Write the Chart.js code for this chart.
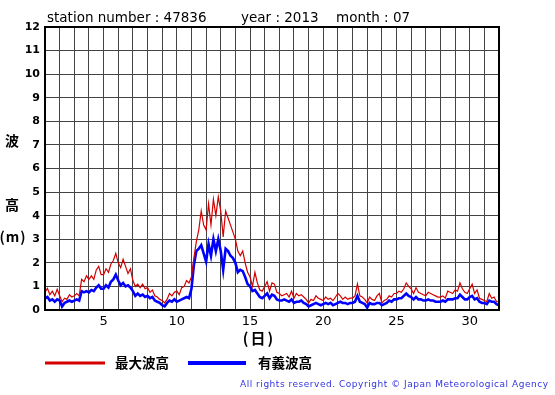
<!DOCTYPE html>
<html>
<head>
<meta charset="utf-8">
<script src="https://cdn.jsdelivr.net/npm/chart.js@4/dist/chart.umd.min.js"></script>
<style>
html,body{margin:0;padding:0;background:#fff;}
#wrap{position:relative;width:555px;height:395px;}
canvas{display:block;}
</style>
</head>
<body>
<div id="wrap"><canvas id="c" width="555" height="395"></canvas></div>
<script>
// ---- data (6 samples per day, starting day 1) ----
const startDay = 1;
const samplesPerDay = 6;
const maxWave = [
0.75,0.92,0.65,0.8,0.6,0.88,
0.6,0.35,0.5,0.45,0.65,0.55,
0.6,0.7,0.6,1.3,1.2,1.45,
1.3,1.45,1.3,1.7,1.85,1.5,
1.5,1.75,1.6,1.95,2.1,2.4,
2.0,1.8,2.15,1.85,1.55,1.75,
1.25,1.0,1.1,0.95,1.1,0.9,
0.95,0.75,0.85,0.6,0.55,0.45,
0.4,0.3,0.45,0.7,0.6,0.75,
0.8,0.65,0.95,1.0,1.25,1.15,
1.4,2.2,2.9,3.4,4.2,3.6,
3.4,4.5,3.6,4.7,4.0,4.8,
4.2,3.1,4.2,3.9,3.6,3.3,
3.0,2.5,2.3,2.5,2.0,1.6,
1.4,1.0,1.6,1.15,0.85,0.8,
1.0,1.2,0.8,1.15,1.1,0.75,
0.7,0.6,0.65,0.7,0.55,0.8,
0.5,0.7,0.6,0.65,0.55,0.45,
0.3,0.45,0.4,0.6,0.5,0.45,
0.4,0.55,0.45,0.5,0.4,0.55,
0.7,0.6,0.45,0.55,0.45,0.5,
0.5,0.6,1.1,0.6,0.55,0.45,
0.3,0.55,0.45,0.4,0.6,0.7,
0.3,0.4,0.45,0.6,0.55,0.7,
0.7,0.8,0.75,0.9,1.15,1.0,
0.9,0.7,0.95,0.75,0.7,0.65,
0.6,0.75,0.7,0.65,0.6,0.55,
0.55,0.6,0.5,0.8,0.75,0.7,
0.85,0.8,1.15,0.9,0.75,0.7,
0.9,1.1,0.7,0.85,0.5,0.45,
0.4,0.35,0.7,0.5,0.55,0.35,
0.35
];
const sigWave = [
0.5,0.55,0.4,0.45,0.35,0.45,
0.4,0.15,0.3,0.35,0.4,0.35,
0.4,0.45,0.4,0.8,0.75,0.8,
0.75,0.85,0.8,0.95,1.05,0.9,
0.9,1.05,0.95,1.2,1.3,1.5,
1.25,1.05,1.15,1.0,1.05,0.95,
0.8,0.6,0.7,0.6,0.65,0.55,
0.6,0.5,0.55,0.4,0.35,0.3,
0.2,0.15,0.3,0.4,0.35,0.45,
0.35,0.4,0.45,0.5,0.55,0.5,
0.9,1.9,2.5,2.6,2.75,2.4,
2.05,2.8,2.3,3.0,2.5,3.0,
2.5,1.7,2.6,2.5,2.3,2.2,
2.0,1.6,1.7,1.65,1.4,1.1,
1.0,0.8,0.85,0.7,0.55,0.5,
0.6,0.7,0.5,0.65,0.6,0.45,
0.4,0.4,0.45,0.4,0.35,0.45,
0.3,0.35,0.35,0.4,0.3,0.25,
0.15,0.2,0.25,0.3,0.25,0.2,
0.25,0.3,0.25,0.3,0.2,0.25,
0.3,0.35,0.3,0.3,0.25,0.3,
0.3,0.35,0.6,0.35,0.3,0.25,
0.1,0.3,0.25,0.25,0.3,0.3,
0.2,0.25,0.3,0.4,0.35,0.45,
0.45,0.5,0.5,0.6,0.7,0.6,
0.55,0.45,0.55,0.45,0.45,0.4,
0.4,0.45,0.4,0.4,0.35,0.35,
0.35,0.4,0.35,0.45,0.45,0.45,
0.5,0.5,0.65,0.55,0.45,0.45,
0.55,0.6,0.45,0.5,0.35,0.3,
0.3,0.25,0.4,0.35,0.35,0.25,
0.2
];
const xTickLabels = [5, 10, 15, 20, 25, 30];
const seriesNames = ['最大波高', '有義波高'];
const titleParts = ['station number : 47836', 'year : 2013', 'month : 07'];
const yAxisChars = ['波', '高', '(m)'];
const xAxisTitle = '(日)';
const copyright = 'All rights reserved. Copyright \u00A9 Japan Meteorological Agency';

const toPoints = arr => arr.map((v, i) => ({x: startDay + i / samplesPerDay, y: v}));

const textPlugin = {
  id: 'texts',
  afterDraw(chart) {
    const ctx = chart.ctx;
    const a = chart.chartArea;
    ctx.save();
    // plot frame
    ctx.strokeStyle = '#000';
    ctx.lineWidth = 2;
    ctx.strokeRect(a.left, a.top, a.right - a.left, a.bottom - a.top);
    // title
    ctx.fillStyle = '#000';
    ctx.textBaseline = 'alphabetic';
    ctx.textAlign = 'left';
    ctx.font = '13.5px "DejaVu Sans"';
    ctx.fillText(titleParts[0], 47, 22);
    ctx.fillText(titleParts[1], 241, 22);
    ctx.fillText(titleParts[2], 336, 22);
    // y axis label
    ctx.textAlign = 'center';
    ctx.textBaseline = 'middle';
    ctx.font = 'bold 14px "Noto Sans CJK JP"';
    ctx.fillText(yAxisChars[0], 12, 141);
    ctx.fillText(yAxisChars[1], 12, 205);
    ctx.font = 'bold 14px "Noto Sans CJK JP"';
    ctx.letterSpacing = '1px';
    ctx.fillText(yAxisChars[2], 13, 237);
    // x axis title
    ctx.font = 'bold 15px "Noto Sans CJK JP"';
    ctx.letterSpacing = '2px';
    ctx.fillText(xAxisTitle, 259, 338);
    ctx.letterSpacing = '0px';
    // legend
    const ds = chart.data.datasets;
    ctx.lineWidth = 3;
    ctx.strokeStyle = ds[0].borderColor;
    ctx.beginPath(); ctx.moveTo(45, 363); ctx.lineTo(105, 363); ctx.stroke();
    ctx.lineWidth = 4;
    ctx.strokeStyle = ds[1].borderColor;
    ctx.beginPath(); ctx.moveTo(188, 363); ctx.lineTo(246, 363); ctx.stroke();
    ctx.textAlign = 'left';
    ctx.font = 'bold 13.5px "Noto Sans CJK JP"';
    ctx.fillStyle = '#000';
    ctx.fillText(ds[0].label, 115, 363);
    ctx.fillText(ds[1].label, 258, 363);
    // copyright
    ctx.font = '9px "DejaVu Sans"';
    ctx.fillStyle = '#3333dd';
    const w = ctx.measureText(copyright).width;
    const sp = (308 - w) / (copyright.length - 1);
    ctx.letterSpacing = sp + 'px';
    ctx.textAlign = 'left';
    ctx.fillText(copyright, 240, 385);
    ctx.restore();
  }
};

new Chart(document.getElementById('c'), {
  type: 'line',
  data: {
    datasets: [
      {label: seriesNames[0], data: toPoints(maxWave), borderColor: '#d40000', borderWidth: 1.2, pointRadius: 0, tension: 0, fill: false},
      {label: seriesNames[1], data: toPoints(sigWave), borderColor: '#0000ff', borderWidth: 2.6, pointRadius: 0, tension: 0, fill: false}
    ]
  },
  options: {
    responsive: false,
    animation: false,
    devicePixelRatio: 1,
    layout: {padding: {top: 27, right: 56, left: 0, bottom: 0}},
    plugins: {legend: {display: false}, tooltip: {enabled: false}, title: {display: false}},
    scales: {
      x: {
        type: 'linear', min: 1, max: 32,
        grid: {color: '#444', lineWidth: 1, drawTicks: false},
        border: {display: false},
        ticks: {
          stepSize: 1, autoSkip: false, maxRotation: 0, padding: 4,
          color: '#000', font: {family: 'DejaVu Sans', size: 13},
          callback: v => xTickLabels.includes(v) ? String(v) : ''
        },
        afterFit: s => { s.height = 85; }
      },
      y: {
        min: 0, max: 12,
        grid: {color: '#444', lineWidth: 1, drawTicks: false},
        border: {display: false},
        ticks: {stepSize: 1, padding: 5, color: '#000', font: {family: 'DejaVu Sans', size: 11, weight: 'bold'}},
        afterFit: s => { s.width = 45; }
      }
    }
  },
  plugins: [textPlugin]
});
</script>
</body>
</html>
